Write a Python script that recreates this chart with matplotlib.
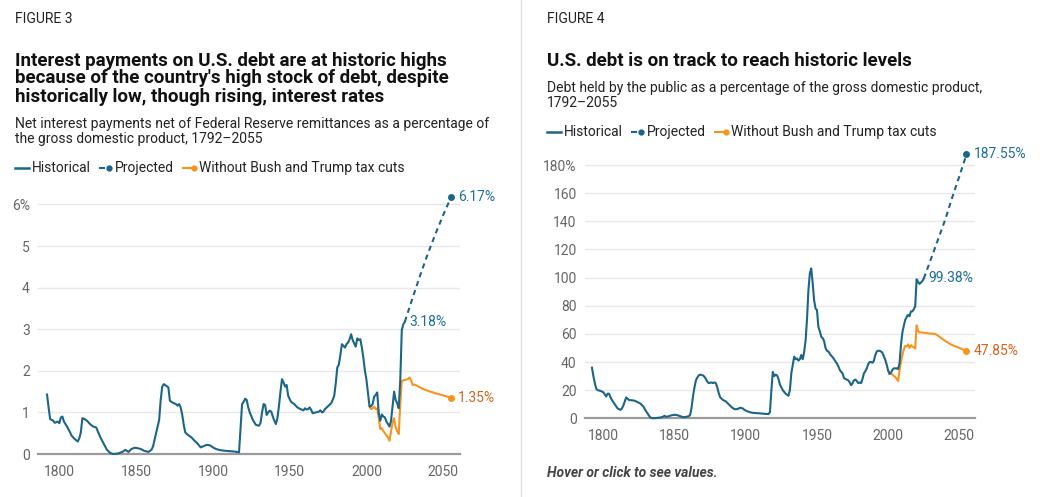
import numpy as np
import matplotlib
matplotlib.use("Agg")
import matplotlib.pyplot as plt
from matplotlib.lines import Line2D

plt.rcParams["font.family"] = ["Roboto", "DejaVu Sans"]

BLUE = "#1b6589"
BLUE_TXT = "#1f6f98"
ORANGE = "#f7941d"
ORANGE_TXT = "#d5631c"
GRID = "#e8e8e8"
TICK = "#666666"

# ---- figure 3: net interest as % of GDP ----
int_years = [1792, 1793, 1794, 1796, 1797, 1799, 1800, 1801, 1802, 1803, 1805, 1807, 1808, 1810,
             1812, 1813, 1814, 1815, 1816, 1818, 1820, 1822, 1824, 1826, 1827, 1829, 1831, 1833,
             1835, 1838, 1841, 1843, 1845, 1847, 1849, 1851, 1853, 1855, 1858, 1860, 1861, 1863,
             1865, 1866, 1867, 1868, 1870, 1871, 1872, 1874, 1876, 1877, 1878, 1879, 1880, 1881,
             1882, 1884, 1886, 1888, 1890, 1892, 1894, 1896, 1898, 1900, 1902, 1905, 1910, 1914,
             1917, 1918, 1919, 1920, 1921, 1922, 1923, 1924, 1926, 1928, 1930, 1931, 1932, 1933,
             1934, 1935, 1936, 1937, 1938, 1939, 1940, 1941, 1942, 1943, 1944, 1945, 1946, 1947,
             1948, 1949, 1950, 1951, 1953, 1955, 1957, 1959, 1960, 1961, 1962, 1963, 1964, 1965,
             1967, 1969, 1970, 1971, 1972, 1973, 1975, 1977, 1978, 1979, 1980, 1981, 1982, 1983,
             1984, 1985, 1986, 1987, 1988, 1989, 1990, 1991, 1992, 1993, 1994, 1995, 1996, 1997,
             1998, 1999, 2000, 2001, 2002, 2003, 2004, 2005, 2006, 2007, 2008, 2009, 2010, 2011,
             2012, 2013, 2014, 2015, 2016, 2017, 2018, 2019, 2020, 2021, 2022, 2023, 2024, 2025]
int_hist = [1.43, 1.12, 0.84, 0.80, 0.75, 0.78, 0.74, 0.88, 0.90, 0.78, 0.66, 0.52, 0.44, 0.36,
            0.30, 0.38, 0.52, 0.86, 0.85, 0.80, 0.72, 0.66, 0.64, 0.46, 0.38, 0.24, 0.10, 0.03,
            0.00, 0.01, 0.05, 0.10, 0.05, 0.12, 0.15, 0.14, 0.12, 0.08, 0.05, 0.10, 0.18, 0.50,
            0.82, 1.30, 1.62, 1.68, 1.63, 1.60, 1.28, 1.23, 1.20, 1.16, 1.20, 1.12, 0.95, 0.70,
            0.52, 0.45, 0.40, 0.32, 0.25, 0.16, 0.19, 0.22, 0.21, 0.16, 0.12, 0.09, 0.07, 0.06,
            0.04, 0.60, 1.20, 1.25, 1.33, 1.30, 1.12, 1.00, 0.82, 0.70, 0.68, 0.75, 1.00, 1.20,
            1.18, 0.94, 1.00, 1.04, 1.02, 0.90, 0.80, 0.72, 0.86, 1.15, 1.50, 1.80, 1.72, 1.62,
            1.66, 1.40, 1.32, 1.25, 1.20, 1.12, 1.08, 1.05, 1.10, 1.07, 1.08, 1.12, 1.06, 0.98,
            1.00, 1.02, 1.05, 1.00, 1.02, 1.08, 1.15, 1.22, 1.30, 1.40, 1.70, 2.08, 2.15, 2.38,
            2.64, 2.60, 2.56, 2.64, 2.68, 2.76, 2.88, 2.74, 2.66, 2.58, 2.78, 2.74, 2.76, 2.56,
            2.30, 2.00, 1.78, 1.45, 1.14, 1.15, 1.20, 1.38, 1.42, 1.48, 0.98, 0.80, 0.95, 0.90,
            0.88, 0.78, 0.72, 0.66, 0.80, 1.14, 1.50, 1.30, 1.22, 1.10, 1.78, 2.98, 3.12, 3.18]
int_proj_years = [2025, 2030, 2035, 2040, 2045, 2050, 2055]
int_proj = [3.18, 3.75, 4.30, 4.82, 5.30, 5.75, 6.17]
int_alt_years = [2002, 2003, 2004, 2005, 2006, 2007, 2008, 2009, 2010, 2011, 2012, 2013, 2014,
                 2015, 2016, 2017, 2018, 2019, 2020, 2021, 2022, 2023, 2025, 2027, 2028, 2029,
                 2030, 2031, 2032, 2034, 2037, 2040, 2045, 2050, 2055]
int_alt = [1.14, 1.08, 1.10, 1.14, 1.08, 1.10, 0.85, 0.60, 0.62, 0.55, 0.50, 0.45, 0.40,
           0.32, 0.55, 0.75, 0.86, 0.65, 0.55, 0.48, 1.20, 1.76, 1.78, 1.80, 1.84, 1.78,
           1.66, 1.67, 1.66, 1.62, 1.56, 1.52, 1.46, 1.41, 1.35]

# ---- figure 4: debt held by the public as % of GDP ----
debt_years = [1792, 1793, 1794, 1795, 1796, 1798, 1799, 1800, 1801, 1802, 1803, 1804, 1805, 1806,
              1807, 1808, 1809, 1810, 1811, 1812, 1813, 1814, 1815, 1816, 1817, 1818, 1820, 1822,
              1823, 1824, 1826, 1828, 1830, 1832, 1833, 1835, 1838, 1840, 1842, 1843, 1844, 1846,
              1848, 1850, 1852, 1854, 1856, 1858, 1860, 1861, 1862, 1863, 1864, 1865, 1866, 1867,
              1868, 1870, 1871, 1872, 1873, 1874, 1876, 1877, 1878, 1879, 1880, 1881, 1882, 1884,
              1886, 1888, 1890, 1892, 1894, 1896, 1898, 1899, 1901, 1904, 1907, 1910, 1913, 1916,
              1917, 1918, 1919, 1920, 1921, 1922, 1923, 1924, 1926, 1928, 1930, 1931, 1932, 1933,
              1934, 1935, 1936, 1937, 1938, 1939, 1940, 1941, 1942, 1943, 1944, 1945, 1946, 1947,
              1948, 1949, 1950, 1951, 1952, 1953, 1954, 1955, 1956, 1957, 1958, 1959, 1960, 1961,
              1962, 1963, 1964, 1965, 1966, 1967, 1968, 1969, 1970, 1971, 1972, 1973, 1974, 1975,
              1976, 1977, 1978, 1979, 1980, 1981, 1982, 1983, 1984, 1985, 1986, 1987, 1988, 1989,
              1990, 1991, 1992, 1993, 1994, 1995, 1996, 1997, 1998, 1999, 2000, 2001, 2002, 2003,
              2004, 2005, 2006, 2007, 2008, 2009, 2010, 2011, 2012, 2013, 2014, 2015, 2016, 2017,
              2018, 2019, 2020, 2021, 2022, 2023, 2024, 2025]
debt_hist = [36, 30, 25, 21, 20, 19.5, 19, 18.5, 17, 15.5, 17.5, 17.5, 15, 13,
             11.5, 10, 8.5, 7, 6.5, 6, 7, 9, 12, 14.8, 14, 13, 12.8, 12.5,
             12, 11.5, 10.5, 8.5, 5, 2, 0.5, 0, 0.3, 0.5, 1.2, 1.8, 1.0, 1.5,
             2.2, 2.5, 2.2, 1.5, 0.8, 1.0, 1.5, 2.5, 8, 16, 22, 27, 29, 30.5,
             31, 30.5, 29.5, 28, 26, 25, 25.5, 25, 25.5, 25, 22, 18, 15, 13,
             12, 10, 8, 6.5, 6.5, 7.5, 7, 6, 5, 4, 3.7, 3.5, 3.2, 3,
             4.5, 20, 33, 30, 31, 30.5, 28, 24, 20, 17.5, 16, 20, 32, 38,
             43.8, 42, 42.5, 41, 42, 45, 42, 47, 55, 70, 91, 103, 106.5, 96,
             84, 78, 77, 65, 62, 58, 57, 55, 50, 48, 47.5, 46, 44.5, 43.5,
             42, 40.5, 39, 37, 34.5, 33, 32, 28.5, 28, 27.5, 27, 25.5, 23.5, 25,
             27, 27.5, 26.5, 25, 25.5, 25, 28, 32, 33.5, 35.5, 38.5, 40, 40, 39.5,
             41, 45, 47.5, 48, 48, 47.5, 46.5, 44, 41.5, 38, 34, 31.5, 32.5, 34.5,
             35.5, 35.5, 35.5, 35, 39, 52, 61, 65.8, 70, 72, 73.5, 72.5, 76, 76,
             77.5, 79.5, 98.8, 97, 95.5, 96.5, 97.5, 99.38]
debt_proj_years = [2025, 2030, 2035, 2040, 2045, 2050, 2055]
debt_proj = [99.38, 113, 127, 141, 157, 172, 187.55]
debt_alt_years = [2000, 2001, 2002, 2003, 2004, 2005, 2006, 2007, 2008, 2009, 2010, 2011, 2012,
                  2013, 2014, 2015, 2016, 2017, 2018, 2019, 2020, 2021, 2022, 2024, 2027, 2030,
                  2033, 2036, 2040, 2045, 2050, 2055]
debt_alt = [34, 31.5, 32, 31, 30, 29.5, 28, 26.5, 34, 40, 45, 49, 51.5,
            51, 52.5, 50, 52, 51, 50.5, 49.5, 66, 62, 61, 61, 60.5, 60.2,
            60, 58, 55, 52, 50, 47.85]

W, H = 1040, 497
fig = plt.figure(figsize=(W / 100, H / 100), dpi=100)


def fx(px):
    return px / W


def fy(py):
    return 1 - py / H


def ftext(px, py, s, **kw):
    fig.text(fx(px), fy(py), s, va="baseline", **kw)


def legend(x0, py):
    ym = fy(py - 4)
    # Historical: short solid line
    fig.add_artist(Line2D([fx(x0), fx(x0 + 14)], [ym] * 2, color=BLUE, lw=1.8))
    ftext(x0 + 17, py, "Historical", fontsize=10, color="#222222")
    # Projected: dash and dot
    x1 = x0 + 85
    fig.add_artist(Line2D([fx(x1), fx(x1 + 4)], [ym] * 2, color=BLUE, lw=1.5))
    fig.add_artist(Line2D([fx(x1 + 9)], [ym], color=BLUE, marker="o", ms=3.5, lw=0))
    ftext(x1 + 15, py, "Projected", fontsize=10, color="#222222")
    # without tax cuts: line ending in a dot
    x2 = x0 + 168
    fig.add_artist(Line2D([fx(x2), fx(x2 + 10)], [ym] * 2, color=ORANGE, lw=1.5))
    fig.add_artist(Line2D([fx(x2 + 11)], [ym], color=ORANGE, marker="o", ms=3.5, lw=0))
    ftext(x2 + 16, py, "Without Bush and Trump tax cuts", fontsize=10, color="#222222")


def style_axes(ax, yticks, top_label):
    for s in ax.spines.values():
        s.set_visible(False)
    ax.set_yticks(yticks)
    labels = [str(t) for t in yticks]
    labels[-1] = top_label
    ax.set_yticklabels(labels)
    ax.set_xticks([1800, 1850, 1900, 1950, 2000, 2050])
    ax.tick_params(length=0, labelsize=10, labelcolor=TICK, pad=6)
    ax.tick_params(axis="x", pad=8)
    for t in yticks[1:]:
        ax.axhline(t, color=GRID, lw=1, zorder=0)
    ax.axhline(0, color="#9a9a9a", lw=1.6, zorder=1, clip_on=False)


# left panel
ax1 = fig.add_axes([fx(38.3), fy(454), fx(460) - fx(38.3), fy(192) - fy(454)])
ax1.set_xlim(1786.3, 2060.9)
ax1.set_ylim(0, 6.3)
style_axes(ax1, [0, 1, 2, 3, 4, 5, 6], "6%")
ax1.plot(int_alt_years, int_alt, color=ORANGE, lw=1.5, zorder=3, clip_on=False)
ax1.plot(int_years, int_hist, color=BLUE, lw=1.5, zorder=4, clip_on=False)
ax1.plot(int_proj_years, int_proj, color=BLUE, lw=1.5, ls=(0, (2.5, 2)), zorder=4)
ax1.plot(int_proj_years[-1], int_proj[-1], "o", color=BLUE, ms=4, zorder=5, clip_on=False)
ax1.plot(int_alt_years[-1], int_alt[-1], "o", color=ORANGE, ms=4, zorder=5, clip_on=False)
ax1.annotate("6.17%", (int_proj_years[-1], int_proj[-1]), xytext=(5, 0), textcoords="offset points",
             va="center", fontsize=10, color=BLUE_TXT, annotation_clip=False)
ax1.annotate("3.18%", (int_years[-1], int_hist[-1]), xytext=(3, 0), textcoords="offset points",
             va="center", fontsize=10, color=BLUE_TXT, annotation_clip=False)
ax1.annotate("1.35%", (int_alt_years[-1], int_alt[-1]), xytext=(5, 0), textcoords="offset points",
             va="center", fontsize=10, color=ORANGE_TXT, annotation_clip=False)

# right panel
ax2 = fig.add_axes([fx(585), fy(418.3), fx(975) - fx(585), fy(151) - fy(418.3)])
ax2.set_xlim(1787.1, 2061)
ax2.set_ylim(0, 190)
style_axes(ax2, [0, 20, 40, 60, 80, 100, 120, 140, 160, 180], "180%")
ax2.plot(debt_alt_years, debt_alt, color=ORANGE, lw=1.5, zorder=3, clip_on=False)
ax2.plot(debt_years, debt_hist, color=BLUE, lw=1.5, zorder=4, clip_on=False)
ax2.plot(debt_proj_years, debt_proj, color=BLUE, lw=1.5, ls=(0, (2.5, 2)), zorder=4)
ax2.plot(debt_proj_years[-1], debt_proj[-1], "o", color=BLUE, ms=4, zorder=5, clip_on=False)
ax2.plot(debt_alt_years[-1], debt_alt[-1], "o", color=ORANGE, ms=4, zorder=5, clip_on=False)
ax2.annotate("187.55%", (debt_proj_years[-1], debt_proj[-1]), xytext=(5, 0), textcoords="offset points",
             va="center", fontsize=10, color=BLUE_TXT, annotation_clip=False)
ax2.annotate("99.38%", (debt_years[-1], debt_hist[-1]), xytext=(3, 0), textcoords="offset points",
             va="center", fontsize=10, color=BLUE_TXT, annotation_clip=False)
ax2.annotate("47.85%", (debt_alt_years[-1], debt_alt[-1]), xytext=(5, 0), textcoords="offset points",
             va="center", fontsize=10, color=ORANGE_TXT, annotation_clip=False)

# divider between the two panels
fig.add_artist(Line2D([fx(521)] * 2, [0, 1], color="#dddddd", lw=1))

# headers, left
ftext(15, 23.3, "FIGURE 3", fontsize=10, color="#222222")
ftext(15, 66, "Interest payments on U.S. debt are at historic highs", fontsize=13.5, fontweight="bold", color="#111111")
ftext(15, 83.3, "because of the country's high stock of debt, despite", fontsize=13.5, fontweight="bold", color="#111111")
ftext(15, 101.7, "historically low, though rising, interest rates", fontsize=13.5, fontweight="bold", color="#111111")
ftext(15, 127.7, "Net interest payments net of Federal Reserve remittances as a percentage of", fontsize=10, color="#222222")
ftext(15, 142.7, "the gross domestic product, 1792\u20132055", fontsize=10, color="#222222")
legend(15, 171.7)

# headers, right
ftext(546.7, 23.3, "FIGURE 4", fontsize=10, color="#222222")
ftext(546.7, 65.7, "U.S. debt is on track to reach historic levels", fontsize=13.5, fontweight="bold", color="#111111")
ftext(546.7, 91.7, "Debt held by the public as a percentage of the gross domestic product,", fontsize=10, color="#222222")
ftext(546.7, 106.7, "1792\u20132055", fontsize=10, color="#222222")
legend(546.7, 136)
ftext(546.7, 476.7, "Hover or click to see values.", fontsize=10, fontweight="bold", fontstyle="italic", color="#444444")

fig.savefig("out.png", dpi=100, facecolor="white")
